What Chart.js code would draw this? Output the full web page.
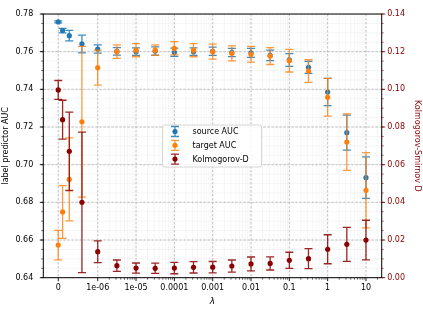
<!DOCTYPE html>
<html>
<head>
<meta charset="utf-8">
<script src="https://cdn.jsdelivr.net/npm/chart.js@4.4.1/dist/chart.umd.min.js"></script>
<style>
  html, body { margin: 0; padding: 0; background: #fff; }
  canvas { display: block; }
</style>
</head>
<body>
<canvas id="aucChart" width="423" height="318"></canvas>
<script>
// lambda values (x), symlog-like axis: linear below 1e-6, log above
const lambdas = [0, 1.1e-7, 2.8e-7, 6e-7, 1e-6, 3.16e-6, 1e-5, 3.16e-5, 1e-4, 3.16e-4,
                 1e-3, 3.16e-3, 0.01, 0.0316, 0.1, 0.316, 1, 3.16, 10];

const sourceAuc = [0.7758, 0.7712, 0.7685, 0.7641, 0.7614, 0.7602, 0.7600, 0.7603, 0.7597, 0.7600,
                   0.7602, 0.7596, 0.7594, 0.7580, 0.7556, 0.7517, 0.7386, 0.7170, 0.6931];
const sourceErr = [0.0005, 0.0012, 0.0028, 0.0047, 0.0022, 0.0020, 0.0020, 0.0022, 0.0022, 0.0020,
                   0.0022, 0.0022, 0.0024, 0.0028, 0.0034, 0.0032, 0.0072, 0.0093, 0.0110];

const targetAuc = [0.6573, 0.6749, 0.6922, 0.7228, 0.7515, 0.7600, 0.7608, 0.7608, 0.7618, 0.7608,
                   0.7600, 0.7591, 0.7586, 0.7577, 0.7552, 0.7497, 0.7358, 0.7120, 0.6864];
const targetErr = [0.0078, 0.0140, 0.0220, 0.0400, 0.0093, 0.0036, 0.0035, 0.0028, 0.0035, 0.0035,
                   0.0040, 0.0040, 0.0042, 0.0045, 0.0060, 0.0060, 0.0100, 0.0150, 0.0200];

const ksD    = [0.0997, 0.0839, 0.0671, 0.0400, 0.0138, 0.0064, 0.0051, 0.0050, 0.0051, 0.0055,
                0.0056, 0.0062, 0.0073, 0.0076, 0.0092, 0.0101, 0.0151, 0.0177, 0.0200];
const ksErr  = [0.0050, 0.0103, 0.0208, 0.0373, 0.0058, 0.0030, 0.0027, 0.0027, 0.0030, 0.0030,
                0.0030, 0.0032, 0.0037, 0.0035, 0.0043, 0.0053, 0.0077, 0.0090, 0.0105];

const xTickValues = [0, 1e-6, 1e-5, 1e-4, 1e-3, 0.01, 0.1, 1, 10];
const xTickLabels = ['0', '1e-06', '1e-05', '0.0001', '0.001', '0.01', '0.1', '1', '10'];
const leftTicks  = [0.64, 0.66, 0.68, 0.70, 0.72, 0.74, 0.76, 0.78];
const rightTicks = [0.00, 0.02, 0.04, 0.06, 0.08, 0.10, 0.12, 0.14];

const BLUE = '#1f77b4';
const ORANGE = '#ff7f0e';
const DARKRED = '#8b0000';
const FONT = "'DejaVu Sans', sans-serif";

// linear part spans a little more than one decade, like matplotlib's symlog
const LIN = 1.03;
function pos(l) {
    return l >= 1e-6 ? Math.log10(l) + 6 : (l / 1e-6 - 1) * LIN;
}

const toPoints = vals => vals.map((v, i) => ({ x: pos(lambdas[i]), y: v }));

// minor x ticks on the log part
const xMinor = [];
for (let k = -6; k <= 1; k++) {
    for (let m = 2; m <= 9; m++) xMinor.push(pos(m * Math.pow(10, k)));
}

function fixBox(w, h) {
    return function (s) {
        if (w != null) s.width = w;
        if (h != null) s.height = h;
        s.paddingTop = s.paddingBottom = s.paddingLeft = s.paddingRight = 0;
    };
}

// grid below the data
const gridPlugin = {
    id: 'grid',
    beforeDatasetsDraw(chart) {
        const { ctx, chartArea: a, scales } = chart;
        const x = scales.x, y = scales.y;
        ctx.save();
        ctx.beginPath();
        ctx.rect(a.left, a.top, a.right - a.left, a.bottom - a.top);
        ctx.clip();
        // minor
        ctx.strokeStyle = 'rgba(0,0,0,0.07)';
        ctx.lineWidth = 0.6;
        xMinor.forEach(v => {
            const px = x.getPixelForValue(v);
            ctx.beginPath(); ctx.moveTo(px, a.top); ctx.lineTo(px, a.bottom); ctx.stroke();
        });
        for (let v = 0.64; v < 0.78; v += 0.005) {
            const py = y.getPixelForValue(v);
            ctx.beginPath(); ctx.moveTo(a.left, py); ctx.lineTo(a.right, py); ctx.stroke();
        }
        // major
        ctx.strokeStyle = '#b0b0b0';
        ctx.lineWidth = 0.8;
        ctx.setLineDash([2.5, 1.5]);
        xTickValues.forEach(v => {
            const px = x.getPixelForValue(pos(v));
            ctx.beginPath(); ctx.moveTo(px, a.top); ctx.lineTo(px, a.bottom); ctx.stroke();
        });
        leftTicks.forEach(v => {
            const py = y.getPixelForValue(v);
            ctx.beginPath(); ctx.moveTo(a.left, py); ctx.lineTo(a.right, py); ctx.stroke();
        });
        ctx.restore();
    }
};

// error bars drawn just before each dataset's markers
const errorBarPlugin = {
    id: 'errorBars',
    beforeDatasetDraw(chart, args) {
        const ds = chart.data.datasets[args.index];
        if (!ds.err) return;
        const ys = chart.scales[ds.yAxisID];
        const ctx = chart.ctx;
        ctx.save();
        ctx.strokeStyle = ds.errColor;
        ctx.lineWidth = 1.3;
        args.meta.data.forEach((pt, i) => {
            const v = ds.data[i].y, e = ds.err[i];
            const y1 = ys.getPixelForValue(v + e), y2 = ys.getPixelForValue(v - e);
            ctx.beginPath();
            ctx.moveTo(pt.x, y1); ctx.lineTo(pt.x, y2);
            ctx.moveTo(pt.x - 4, y1); ctx.lineTo(pt.x + 4, y1);
            ctx.moveTo(pt.x - 4, y2); ctx.lineTo(pt.x + 4, y2);
            ctx.stroke();
        });
        ctx.restore();
    }
};

// spines, tick marks and the legend box on top
const axesPlugin = {
    id: 'axes',
    afterDraw(chart) {
        const { ctx, chartArea: a, scales } = chart;
        const x = scales.x, y = scales.y, y2 = scales.y2;
        ctx.save();
        // minor ticks
        ctx.strokeStyle = '#000';
        ctx.lineWidth = 0.6;
        xMinor.forEach(v => {
            if (v > x.max) return;
            const px = x.getPixelForValue(v);
            ctx.beginPath(); ctx.moveTo(px, a.bottom); ctx.lineTo(px, a.bottom + 2); ctx.stroke();
        });
        for (let v = 0.64; v < 0.781; v += 0.005) {
            const py = y.getPixelForValue(v);
            ctx.beginPath(); ctx.moveTo(a.left, py); ctx.lineTo(a.left - 2, py); ctx.stroke();
        }
        ctx.strokeStyle = DARKRED;
        for (let v = 0; v < 0.1401; v += 0.005) {
            const py = y2.getPixelForValue(v);
            ctx.beginPath(); ctx.moveTo(a.right, py); ctx.lineTo(a.right + 2, py); ctx.stroke();
        }
        // major ticks
        ctx.lineWidth = 0.9;
        ctx.strokeStyle = '#000';
        xTickValues.forEach(v => {
            const px = x.getPixelForValue(pos(v));
            ctx.beginPath(); ctx.moveTo(px, a.bottom); ctx.lineTo(px, a.bottom + 3.5); ctx.stroke();
        });
        leftTicks.forEach(v => {
            const py = y.getPixelForValue(v);
            ctx.beginPath(); ctx.moveTo(a.left, py); ctx.lineTo(a.left - 3.5, py); ctx.stroke();
        });
        ctx.strokeStyle = DARKRED;
        rightTicks.forEach(v => {
            const py = y2.getPixelForValue(v);
            ctx.beginPath(); ctx.moveTo(a.right, py); ctx.lineTo(a.right + 3.5, py); ctx.stroke();
        });
        // spines
        ctx.strokeStyle = '#000';
        ctx.lineWidth = 1;
        ctx.strokeRect(a.left, a.top, a.right - a.left, a.bottom - a.top);

        // legend
        const lx = 162.5, ly = 125, lw = 99, lh = 42;
        ctx.fillStyle = 'rgba(255,255,255,0.85)';
        ctx.strokeStyle = '#cccccc';
        ctx.lineWidth = 0.8;
        ctx.beginPath();
        ctx.roundRect(lx, ly, lw, lh, 2);
        ctx.fill(); ctx.stroke();
        const items = chart.data.datasets.slice().sort((p, q) => p.legendRank - q.legendRank);
        items.forEach((ds, i) => {
            const cy = ly + 6.5 + i * 13.8, cx = lx + 12.5;
            ctx.strokeStyle = ds.errColor;
            ctx.lineWidth = 1.3;
            ctx.beginPath();
            ctx.moveTo(cx, cy - 5); ctx.lineTo(cx, cy + 5);
            ctx.moveTo(cx - 4, cy - 5); ctx.lineTo(cx + 4, cy - 5);
            ctx.moveTo(cx - 4, cy + 5); ctx.lineTo(cx + 4, cy + 5);
            ctx.stroke();
            ctx.fillStyle = ds.backgroundColor;
            ctx.beginPath(); ctx.arc(cx, cy, 2.6, 0, Math.PI * 2); ctx.fill();
            ctx.fillStyle = '#000';
            ctx.font = '8px ' + FONT;
            ctx.textBaseline = 'middle';
            ctx.fillText(ds.label, lx + 30, cy + 0.5);
        });
        ctx.restore();
    }
};

new Chart(document.getElementById('aucChart'), {
    type: 'scatter',
    data: {
        datasets: [
            {
                label: 'source AUC', legendRank: 0,
                data: toPoints(sourceAuc), err: sourceErr,
                backgroundColor: BLUE, borderColor: BLUE, errColor: 'rgba(31,119,180,0.85)',
                pointRadius: 2.6, borderWidth: 0, yAxisID: 'y', order: 2
            },
            {
                label: 'target AUC', legendRank: 1,
                data: toPoints(targetAuc), err: targetErr,
                backgroundColor: ORANGE, borderColor: ORANGE, errColor: 'rgba(255,127,14,0.8)',
                pointRadius: 2.6, borderWidth: 0, yAxisID: 'y', order: 1
            },
            {
                label: 'Kolmogorov-D', legendRank: 2,
                data: toPoints(ksD), err: ksErr,
                backgroundColor: DARKRED, borderColor: DARKRED, errColor: 'rgba(139,0,0,0.85)',
                pointRadius: 2.6, borderWidth: 0, yAxisID: 'y2', order: 0
            }
        ]
    },
    options: {
        responsive: false,
        animation: false,
        devicePixelRatio: 1,
        layout: { padding: { top: 14, left: 0, right: 0, bottom: 0 } },
        plugins: { legend: { display: false }, tooltip: { enabled: false } },
        scales: {
            x: {
                type: 'linear',
                min: -1.42, max: 7.41,
                grid: { display: false, drawTicks: false }, border: { display: false },
                afterBuildTicks: s => { s.ticks = xTickValues.map(v => ({ value: pos(v) })); },
                afterFit: fixBox(null, 40.3),
                ticks: {
                    autoSkip: false, maxRotation: 0, padding: 5, color: '#000',
                    font: { family: FONT, size: 8 },
                    callback: (v, i) => xTickLabels[i]
                },
                title: {
                    display: true, text: 'λ', color: '#000',
                    font: { family: FONT, size: 9, style: 'italic' },
                    padding: { top: 0, bottom: 11 }
                }
            },
            y: {
                position: 'left',
                min: 0.64, max: 0.78,
                grid: { display: false, drawTicks: false }, border: { display: false },
                afterBuildTicks: s => { s.ticks = leftTicks.map(v => ({ value: v })); },
                afterFit: fixBox(43.3, null),
                ticks: {
                    padding: 10, color: '#000',
                    font: { family: FONT, size: 8 },
                    callback: v => v.toFixed(2)
                },
                title: {
                    display: true, text: 'label predictor AUC', color: '#000',
                    font: { family: FONT, size: 8 },
                    padding: { top: 1, bottom: 0 }
                }
            },
            y2: {
                position: 'right',
                min: 0, max: 0.14,
                grid: { display: false, drawTicks: false }, border: { display: false },
                afterBuildTicks: s => { s.ticks = rightTicks.map(v => ({ value: v })); },
                afterFit: fixBox(41.3, null),
                ticks: {
                    padding: 5.5, color: DARKRED,
                    font: { family: FONT, size: 8 },
                    callback: v => v.toFixed(2)
                },
                title: {
                    display: true, text: 'Kolmogorov-Smirnov D', color: DARKRED,
                    font: { family: FONT, size: 8 },
                    padding: { top: 1.5, bottom: 0 }
                }
            }
        }
    },
    plugins: [gridPlugin, errorBarPlugin, axesPlugin]
});
</script>
</body>
</html>
